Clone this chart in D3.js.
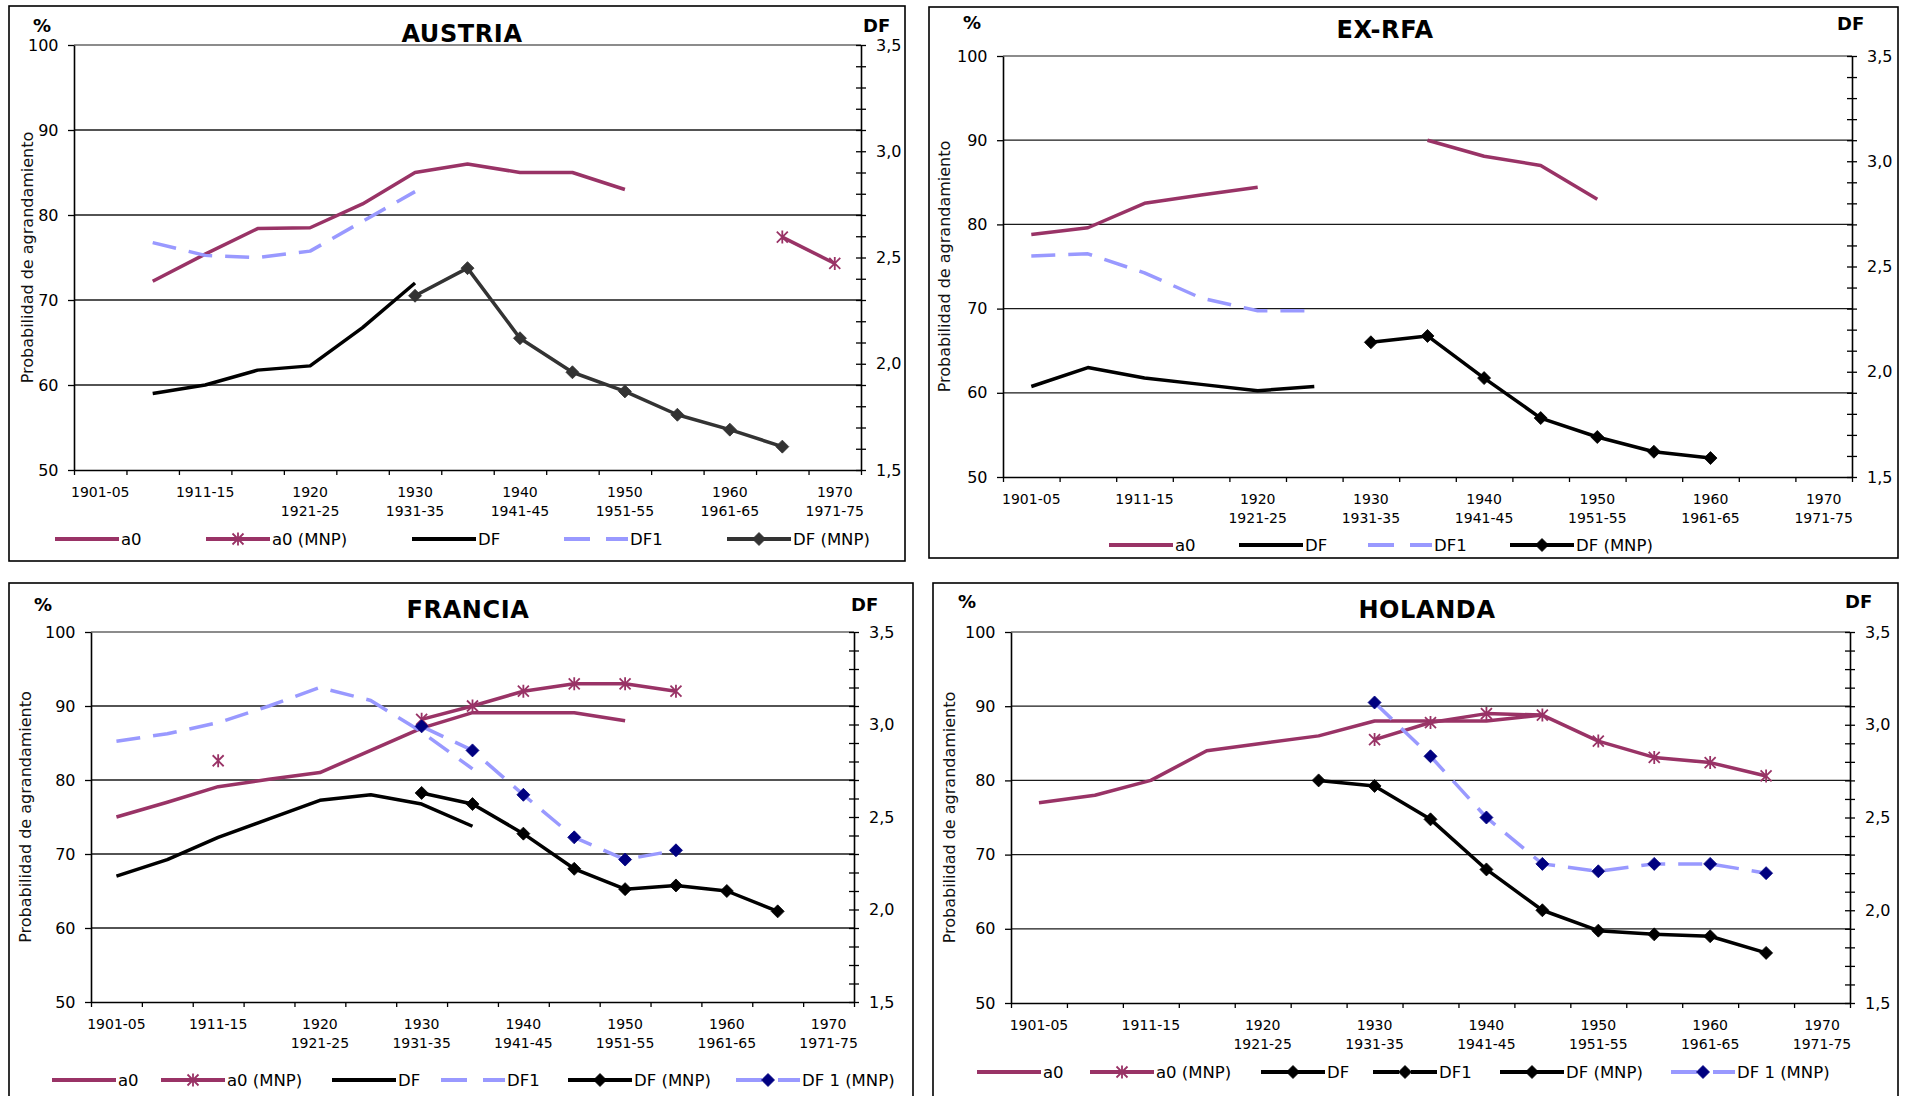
<!DOCTYPE html>
<html>
<head>
<meta charset="utf-8">
<script src="https://cdn.jsdelivr.net/npm/d3@7"></script>
<style>
  html, body { margin: 0; padding: 0; background: #fff; }
  svg { display: block; font-family: "DejaVu Sans", Verdana, sans-serif; }
</style>
</head>
<body>
<svg id="chart" width="1910" height="1096"></svg>
<script>
// Five-year periods on the horizontal axis
const categories = ["1901-05","1906-10","1911-15","1916-20","1921-25","1926-30","1931-35",
  "1936-40","1941-45","1946-50","1951-55","1956-60","1961-65","1966-70","1971-75"];
// Tick labels drawn under every other period (one or two lines)
const tickLabels = [["1901-05"],[],["1911-15"],[],["1920","1921-25"],[],["1930","1931-35"],[],
  ["1940","1941-45"],[],["1950","1951-55"],[],["1960","1961-65"],[],["1970","1971-75"]];
const pctTicks = [50, 60, 70, 80, 90, 100];
const pctGrid = [60, 70, 80, 90, 100];
const dfTicks = d3.range(15, 36).map(d => d / 10);
const yTitle = "Probabilidad de agrandamiento";

// Austria (a0 in %, DF on the right-hand scale)
const austriaA0     = [null, 72.2, 75.4, 78.4, 78.5, 81.3, 85.0, 86.0, 85.0, 85.0, 83.0, null, null, null, null];
const austriaA0MNP  = [null, null, null, null, null, null, null, null, null, null, null, null, null, 77.4, 74.3];
const austriaDF     = [null, 1.86, 1.90, 1.97, 1.99, 2.17, 2.38, null, null, null, null, null, null, null, null];
const austriaDF1    = [null, 2.57, 2.51, 2.50, 2.53, 2.67, 2.81, null, null, null, null, null, null, null, null];
const austriaDFMNP  = [null, null, null, null, null, null, 2.32, 2.45, 2.12, 1.96, 1.87, 1.76, 1.69, 1.61, null];

// Ex-RFA
const exrfaA0       = [78.8, 79.6, 82.5, 83.5, 84.4, null, null, 90.0, 88.1, 87.0, 83.0, null, null, null, null];
const exrfaDF       = [1.93, 2.02, 1.97, 1.94, 1.91, 1.93, null, null, null, null, null, null, null, null, null];
const exrfaDF1      = [2.55, 2.56, 2.47, 2.35, 2.29, 2.29, null, null, null, null, null, null, null, null, null];
const exrfaDFMNP    = [null, null, null, null, null, null, 2.14, 2.17, 1.97, 1.78, 1.69, 1.62, 1.59, null, null];

// Francia
const franciaA0     = [75.0, 77.0, 79.1, 80.1, 81.0, 84.0, 87.0, 89.1, 89.1, 89.1, 88.0, null, null, null, null];
const franciaA0MNP  = [null, null, 82.6, null, null, null, 88.2, 90.0, 92.0, 93.0, 93.0, 92.0, null, null, null];
const franciaDF     = [2.18, 2.27, 2.39, 2.49, 2.59, 2.62, 2.57, 2.45, null, null, null, null, null, null, null];
const franciaDF1    = [2.91, 2.95, 3.01, 3.10, 3.20, 3.13, 2.96, 2.76, null, null, null, null, null, null, null];
const franciaDFMNP  = [null, null, null, null, null, null, 2.63, 2.57, 2.41, 2.22, 2.11, 2.13, 2.10, 1.99, null];
const franciaDF1MNP = [null, null, null, null, null, null, 2.99, 2.86, 2.62, 2.39, 2.27, 2.32, null, null, null];

// Holanda
const holandaA0     = [77.0, 78.0, 80.0, 84.0, 85.0, 86.0, 88.0, 88.0, 88.0, 88.8, null, null, null, null, null];
const holandaA0MNP  = [null, null, null, null, null, null, 85.5, 87.8, 89.0, 88.8, 85.3, 83.1, 82.4, 80.6, null];
const holandaDF     = [null, null, null, null, null, null, null, null, null, null, null, null, null, null, null];
const holandaDF1    = [null, null, null, null, null, null, null, null, null, null, null, null, null, null, null];
const holandaDFMNP  = [null, null, null, null, null, 2.70, 2.67, 2.49, 2.22, 2.00, 1.89, 1.87, 1.86, 1.77, null];
const holandaDF1MNP = [null, null, null, null, null, null, 3.12, 2.83, 2.50, 2.25, 2.21, 2.25, 2.25, 2.20, null];

// Line styles
const PLUM = "#993366", LILAC = "#9999ff", NAVY = "#000080";
const DASH = "24,13";
const st = {
  a0:      { color: PLUM },
  a0mnp:   { color: PLUM, marker: "star", markerColor: PLUM },
  df:      { color: "#000" },
  df1:     { color: LILAC, dash: DASH },
  dfmnp:   { color: "#000", marker: "diamond", markerColor: "#000" },
  dfmnpG:  { color: "#333", marker: "diamond", markerColor: "#333" },
  df1mnp:  { color: LILAC, dash: DASH, marker: "diamond", markerColor: NAVY },
  dfD:     { color: "#000", marker: "diamond", markerColor: "#000" },
  df1D:    { color: "#000", dash: "14,6", marker: "diamond", markerColor: "#000" }
};

const panels = [
  { title: "AUSTRIA", box: [9, 6, 896, 555], plot: { l: 74, r: 861, t: 45, b: 470 },
    titleY: 42, titleX: 462, pct: [33, 32], dfl: [863, 32], yTitleX: 33, legendY: 539,
    series: [
      { name: "a0", values: austriaA0, axis: "pct", style: st.a0, lx: 55 },
      { name: "a0 (MNP)", values: austriaA0MNP, axis: "pct", style: st.a0mnp, lx: 206 },
      { name: "DF", values: austriaDF, axis: "df", style: st.df, lx: 412 },
      { name: "DF1", values: austriaDF1, axis: "df", style: st.df1, lx: 564 },
      { name: "DF (MNP)", values: austriaDFMNP, axis: "df", style: st.dfmnpG, lx: 727 }
    ] },
  { title: "EX-RFA", box: [929, 7, 969, 551], plot: { l: 1003, r: 1852, t: 56, b: 477 },
    titleY: 37.5, titleX: 1385, pct: [963, 29], dfl: [1837, 30], yTitleX: 950, legendY: 545,
    series: [
      { name: "a0", values: exrfaA0, axis: "pct", style: st.a0, lx: 1109 },
      { name: "DF", values: exrfaDF, axis: "df", style: st.df, lx: 1239 },
      { name: "DF1", values: exrfaDF1, axis: "df", style: st.df1, lx: 1368 },
      { name: "DF (MNP)", values: exrfaDFMNP, axis: "df", style: st.dfmnp, lx: 1510 }
    ] },
  { title: "FRANCIA", box: [9, 583, 904, 530], plot: { l: 91, r: 854, t: 632, b: 1002 },
    titleY: 618, titleX: 468, pct: [34, 611], dfl: [851, 611], yTitleX: 31, legendY: 1080,
    series: [
      { name: "a0", values: franciaA0, axis: "pct", style: st.a0, lx: 52 },
      { name: "a0 (MNP)", values: franciaA0MNP, axis: "pct", style: st.a0mnp, lx: 161 },
      { name: "DF", values: franciaDF, axis: "df", style: st.df, lx: 332 },
      { name: "DF1", values: franciaDF1, axis: "df", style: st.df1, lx: 441 },
      { name: "DF (MNP)", values: franciaDFMNP, axis: "df", style: st.dfmnp, lx: 568 },
      { name: "DF 1 (MNP)", values: franciaDF1MNP, axis: "df", style: st.df1mnp, lx: 736 }
    ] },
  { title: "HOLANDA", box: [933, 583, 965, 530], plot: { l: 1011, r: 1850, t: 632, b: 1003 },
    titleY: 617.5, titleX: 1427, pct: [958, 608], dfl: [1845, 608], yTitleX: 955, legendY: 1072,
    series: [
      { name: "a0", values: holandaA0, axis: "pct", style: st.a0, lx: 977 },
      { name: "a0 (MNP)", values: holandaA0MNP, axis: "pct", style: st.a0mnp, lx: 1090 },
      { name: "DF", values: holandaDF, axis: "df", style: st.dfD, lx: 1261 },
      { name: "DF1", values: holandaDF1, axis: "df", style: st.df1D, lx: 1373 },
      { name: "DF (MNP)", values: holandaDFMNP, axis: "df", style: st.dfmnp, lx: 1500 },
      { name: "DF 1 (MNP)", values: holandaDF1MNP, axis: "df", style: st.df1mnp, lx: 1671 }
    ] }
];

const svg = d3.select("#chart");
const fmtDF = d => d.toFixed(1).replace(".", ",");
const isMajor = d => Math.abs(d * 2 - Math.round(d * 2)) < 1e-6;

function drawMarker(g, kind, cx, cy, color) {
  if (kind === "diamond") {
    g.append("path")
      .attr("d", `M${cx},${cy - 6.5}L${cx + 6.5},${cy}L${cx},${cy + 6.5}L${cx - 6.5},${cy}Z`)
      .attr("fill", color).attr("stroke", color).attr("stroke-width", 0.8);
  } else if (kind === "star") {
    const r = 5.5;
    g.append("path")
      .attr("d", `M${cx - r},${cy - r}L${cx + r},${cy + r}M${cx - r},${cy + r}L${cx + r},${cy - r}M${cx},${cy - r - 1}L${cx},${cy + r + 1}`)
      .attr("fill", "none").attr("stroke", color).attr("stroke-width", 1.8);
  }
}

function drawPanel(p) {
  const g = svg.append("g");
  const { l, r, t, b } = p.plot;

  g.append("rect")
    .attr("x", p.box[0]).attr("y", p.box[1]).attr("width", p.box[2]).attr("height", p.box[3])
    .attr("fill", "#fff").attr("stroke", "#000").attr("stroke-width", 1.6);

  const x = d3.scaleBand().domain(categories).range([l, r]).padding(0);
  const xb = d3.scaleLinear().domain([0, categories.length]).range([l, r]);
  const y = d3.scaleLinear().domain([50, 100]).range([b, t]);
  const yDF = d3.scaleLinear().domain([1.5, 3.5]).range([b, t]);

  // horizontal gridlines
  g.append("g").selectAll("line").data(pctGrid).join("line")
    .attr("x1", l).attr("x2", r).attr("y1", d => y(d)).attr("y2", d => y(d))
    .attr("stroke", d => d === 100 ? "#8c8c8c" : "#1a1a1a")
    .attr("stroke-width", d => d === 100 ? 2 : 1.3);

  // left axis (%)
  const ax = g.append("g").attr("transform", `translate(${l},0)`)
    .call(d3.axisLeft(y).tickValues(pctTicks).tickSizeInner(6).tickSizeOuter(0).tickPadding(9.5).tickFormat(d3.format("d")));
  ax.select(".domain").attr("stroke", "#000").attr("stroke-width", 1.6);
  ax.selectAll(".tick line").attr("stroke", "#000").attr("stroke-width", 1.3);
  ax.selectAll(".tick text").attr("font-size", 16).attr("font-family", "DejaVu Sans, Verdana, sans-serif").attr("fill", "#000");

  // right axis (DF)
  const ar = g.append("g").attr("transform", `translate(${r},0)`)
    .call(d3.axisRight(yDF).tickValues(dfTicks).tickSizeInner(5).tickSizeOuter(0).tickPadding(10)
      .tickFormat(d => isMajor(d) ? fmtDF(d) : ""));
  ar.select(".domain").attr("stroke", "#000").attr("stroke-width", 1.6);
  ar.selectAll(".tick line").attr("x1", -5).attr("x2", 5).attr("stroke", "#000").attr("stroke-width", 1.3);
  ar.selectAll(".tick text").attr("font-size", 16).attr("font-family", "DejaVu Sans, Verdana, sans-serif").attr("fill", "#000");

  // bottom axis with ticks at period boundaries
  const ab = g.append("g").attr("transform", `translate(0,${b})`)
    .call(d3.axisBottom(xb).tickValues(d3.range(categories.length + 1)).tickSizeInner(5).tickSizeOuter(0).tickFormat(""));
  ab.select(".domain").attr("stroke", "#000").attr("stroke-width", 1.6);
  ab.selectAll(".tick line").attr("stroke", "#000").attr("stroke-width", 1.3);

  // period labels
  categories.forEach((c, i) => {
    tickLabels[i].forEach((txt, k) => {
      g.append("text")
        .attr("x", x(c) + x.bandwidth() / 2).attr("y", b + 27 + k * 18.5)
        .attr("text-anchor", "middle").attr("font-size", 14).attr("fill", "#000")
        .text(txt);
    });
  });

  // titles and axis captions
  g.append("text").attr("x", p.titleX).attr("y", p.titleY).attr("text-anchor", "middle")
    .attr("font-size", 24).attr("font-weight", "bold").attr("letter-spacing", 0.6).text(p.title);
  g.append("text").attr("x", p.pct[0]).attr("y", p.pct[1]).attr("font-size", 18).attr("font-weight", "bold").text("%");
  g.append("text").attr("x", p.dfl[0]).attr("y", p.dfl[1]).attr("font-size", 18).attr("font-weight", "bold").text("DF");
  g.append("text")
    .attr("transform", `translate(${p.yTitleX},${(t + b) / 2}) rotate(-90)`)
    .attr("text-anchor", "middle").attr("font-size", 16).attr("fill", "#111").text(yTitle);

  // series
  const cx = i => x(categories[i]) + x.bandwidth() / 2;
  p.series.forEach(s => {
    const sc = s.axis === "pct" ? y : yDF;
    const pts = s.values.map((v, i) => ({ i, v }));
    const line = d3.line().defined(d => d.v != null).x(d => cx(d.i)).y(d => sc(d.v));
    g.append("path").datum(pts)
      .attr("d", line).attr("fill", "none")
      .attr("stroke", s.style.color).attr("stroke-width", 3.5)
      .attr("stroke-linejoin", "round")
      .attr("stroke-dasharray", s.style.dash || null);
    if (s.style.marker) {
      pts.filter(d => d.v != null).forEach(d => drawMarker(g, s.style.marker, cx(d.i), sc(d.v), s.style.markerColor));
    }
  });

  // legend
  p.series.forEach(s => {
    const ly = p.legendY;
    g.append("line").attr("x1", s.lx).attr("x2", s.lx + 64).attr("y1", ly).attr("y2", ly)
      .attr("stroke", s.style.color).attr("stroke-width", 4)
      .attr("stroke-dasharray", s.style.dash ? (s.style.dash === DASH ? "26,16" : "26,12") : null);
    if (s.style.marker) drawMarker(g, s.style.marker, s.lx + 32, ly, s.style.markerColor);
    g.append("text").attr("x", s.lx + 66).attr("y", ly).attr("dy", "0.36em")
      .attr("font-size", 16.5).attr("fill", "#000").text(s.name);
  });
}

panels.forEach(drawPanel);
</script>
</body>
</html>
